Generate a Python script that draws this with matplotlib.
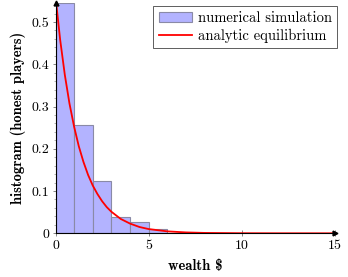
import matplotlib
matplotlib.use("Agg")
import matplotlib.pyplot as plt
from matplotlib.ticker import MultipleLocator
import numpy as np

# Histogram (numerical simulation), unit-width bins
bin_edges = [0, 1, 2, 3, 4, 5, 6]
hist_heights = [0.545, 0.256, 0.123, 0.039, 0.026, 0.010]

# Analytic equilibrium curve
curve_x = [0, 0.25, 0.5, 0.75, 1.0, 1.25, 1.5, 1.75, 2.0, 2.25, 2.5, 2.75,
           3.0, 3.5, 4.0, 4.5, 5.0, 6.0, 7.0, 8.0, 10.0, 12.0, 15.0]
curve_y = [0.560, 0.458, 0.375, 0.307, 0.252, 0.206, 0.169, 0.138, 0.113,
           0.093, 0.076, 0.062, 0.051, 0.034, 0.023, 0.015, 0.010, 0.0046,
           0.0021, 0.0009, 0.0002, 0.00004, 0.0]

x_ticks = [0, 5, 10, 15]
y_ticks = [0, 0.1, 0.2, 0.3, 0.4, 0.5]

plt.rcParams['font.family'] = ['cmr10', 'DejaVu Serif']
plt.rcParams['axes.formatter.use_mathtext'] = True
plt.rcParams['mathtext.fontset'] = 'cm'

fig = plt.figure(figsize=(3.48, 2.77), dpi=100)
ax = fig.add_axes([55.5/348, 1-233.3/277, (335-55.5)/348, (233.3-3)/277])

widths = np.diff(bin_edges)
bars = ax.bar(bin_edges[:-1], hist_heights, width=widths, align='edge',
              color='#b3b3ff', edgecolor='#8a8aa6', linewidth=0.8,
              label='numerical simulation', zorder=2)
line, = ax.plot(curve_x, curve_y, color='red', linewidth=1.3,
                label='analytic equilibrium', zorder=3)

ax.set_xlim(0, 15)
ax.set_ylim(0, hist_heights[0])
ax.set_xticks(x_ticks)
ax.set_yticks(y_ticks)
ax.set_xticklabels([str(t) for t in x_ticks])
ax.set_yticklabels(['0' if t == 0 else f'{t:.1f}' for t in y_ticks])
ax.yaxis.set_minor_locator(MultipleLocator(0.02))

for s in ['top', 'right']:
    ax.spines[s].set_visible(False)
for s in ['left', 'bottom']:
    ax.spines[s].set_linewidth(0.8)
    ax.spines[s].set_zorder(5)

ax.tick_params(which='major', direction='inout', length=4, width=0.5,
               labelsize=10, color='#555555', pad=2.5)
ax.tick_params(which='minor', direction='inout', length=2.5, width=0.4,
               color='#777777')

# axis arrows
ax.plot(1, 0, marker='>', color='black', markersize=3.5,
        transform=ax.transAxes, clip_on=False, zorder=6)
ax.plot(0, 1, marker='^', color='black', markersize=3.5,
        transform=ax.transAxes, clip_on=False, zorder=6)

ax.set_xlabel(r'wealth \$', fontsize=10.5, fontfamily=['cmb10', 'cmr10'], labelpad=5)
ax.set_ylabel('histogram (honest players)', fontsize=10.5,
              fontfamily=['cmb10', 'cmr10'], labelpad=4)

leg = ax.legend([bars, line], ['numerical simulation', 'analytic equilibrium'],
                loc='upper right', bbox_to_anchor=(337/348, 1-6/277),
                bbox_transform=fig.transFigure, borderaxespad=0,
                fontsize=10.5, fancybox=False, framealpha=1,
                edgecolor='#444444', handlelength=2.3, handleheight=0.7,
                borderpad=0.35, labelspacing=0.25, handletextpad=0.4)
leg.get_frame().set_linewidth(0.6)

fig.savefig('out.png', dpi=100)
